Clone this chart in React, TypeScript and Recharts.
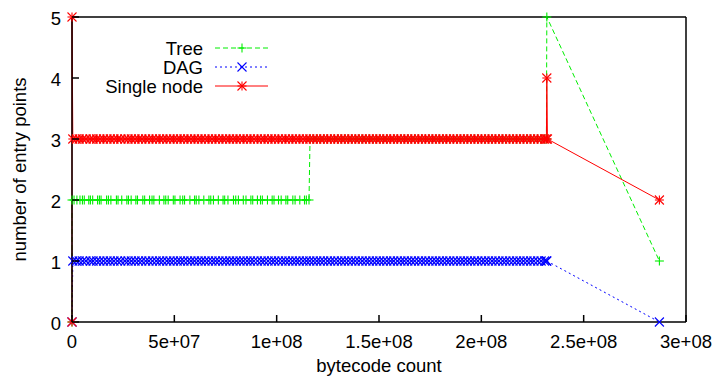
import React from 'react';
import { LineChart, Line, XAxis, YAxis, Legend } from 'recharts';

// sample positions (millions of bytecodes) where the plateaus were recorded
const busyCounts = [
  0.4, 2.1, 3.5, 5.2, 6.8, 8.9, 10.3, 12.0, 13.6, 15.4, 17.1, 18.7, 20.5, 22.2, 23.8, 25.9, 27.4,
  29.0, 30.8, 32.5, 34.1, 36.0, 37.6, 39.3, 41.1, 42.8, 44.4, 46.3, 47.9, 49.6, 51.4, 53.0, 54.7,
  56.5, 58.1, 59.9, 61.6, 63.2, 65.0, 66.7, 68.4, 70.1, 71.8, 73.6, 75.2, 77.0, 78.7, 80.3, 82.1,
  83.8, 85.5, 87.2, 88.9, 90.6, 92.4, 94.0, 95.8, 97.5, 99.1, 100.9, 102.6, 104.3, 106.0, 107.7,
  109.4, 111.1, 112.9, 114.5, 116.2, 117.9, 119.6, 121.3, 123.0, 124.8, 126.4, 128.2, 129.9,
  131.6, 133.3, 135.0, 136.7, 138.4, 140.2, 141.8, 143.6, 145.3, 147.0, 148.7, 150.4, 152.1,
  153.8, 155.6, 157.2, 159.0, 160.7, 162.4, 164.1, 165.8, 167.5, 169.3, 170.9, 172.7, 174.4,
  176.1, 177.8, 179.5, 181.2, 183.0, 184.6, 186.4, 188.1, 189.8, 191.5, 193.2, 194.9, 196.7,
  198.3, 200.1, 201.8, 203.5, 205.2, 206.9, 208.6, 210.4, 212.0, 213.8, 215.5, 217.2, 218.9,
  220.6, 222.3, 224.1, 225.7, 227.5, 229.2, 230.9, 231.8,
];

// tree samples on the lower plateau (before the step at ~116M)
const treeLowCounts = [
  1.0, 2.4, 3.9, 5.1, 6.0, 8.2, 9.0, 10.1, 12.5, 13.4, 14.2, 16.9, 17.8, 19.0, 21.7, 22.5, 24.3,
  26.8, 27.6, 28.9, 31.2, 32.0, 34.6, 35.5, 37.9, 39.1, 40.0, 42.7, 44.9, 45.8, 47.0, 49.5, 50.3,
  52.8, 54.1, 55.0, 57.6, 59.9, 60.7, 62.0, 64.4, 66.9, 67.8, 69.1, 71.5, 73.8, 74.6, 76.2, 78.9,
  80.0, 81.3, 83.7, 85.0, 87.4, 88.3, 90.6, 92.1, 93.0, 95.5, 97.8, 98.7, 100.9, 102.2, 104.5,
  105.4, 107.9, 109.0, 111.3, 113.6, 114.5, 115.8,
];

// plateau levels (entry points)
const treeLevels = { start: [0, 2], low: 2, high: 3, peak: 5, last: 1 };
const dagLevels = { start: [0], mid: 1, last: 0 };
const singleLevels = { start: [0, 5], mid: 3, bump: 4, last: 2 };

const stepAt = 116.3; // tree switches from 2 to 3 here
const endAt = 232.0;
const lastAt = 287.0;

const M = 1e6;

const treeData = [
  ...treeLevels.start.map((y) => ({ x: 0, y })),
  ...treeLowCounts.map((c) => ({ x: c * M, y: treeLevels.low })),
  { x: stepAt * M, y: treeLevels.high },
  ...busyCounts.filter((c) => c > stepAt).map((c) => ({ x: c * M, y: treeLevels.high })),
  { x: endAt * M, y: treeLevels.peak },
  { x: lastAt * M, y: treeLevels.last },
];

const dagData = [
  ...dagLevels.start.map((y) => ({ x: 0, y })),
  ...busyCounts.map((c) => ({ x: c * M, y: dagLevels.mid })),
  { x: endAt * M, y: dagLevels.mid },
  { x: lastAt * M, y: dagLevels.last },
];

const singleData = [
  ...singleLevels.start.map((y) => ({ x: 0, y })),
  ...busyCounts.map((c) => ({ x: c * M, y: singleLevels.mid })),
  { x: endAt * M, y: singleLevels.bump },
  { x: (endAt + 0.3) * M, y: singleLevels.mid },
  { x: lastAt * M, y: singleLevels.last },
];

const xTicks = [0, 5e7, 1e8, 1.5e8, 2e8, 2.5e8, 3e8];
const xTickLabels = ['0', '5e+07', '1e+08', '1.5e+08', '2e+08', '2.5e+08', '3e+08'];
const yTicks = [0, 1, 2, 3, 4, 5];
const legendOrder = ['Tree', 'DAG', 'Single node'];

const FONT = "'Liberation Sans', Arial, Helvetica, sans-serif";
const FONT_SIZE = 18.5;
const TICK_LEN = 7;
const GREEN = '#00ee00';
const BLUE = '#0000ff';
const RED = '#ff0000';

type MarkKind = 'plus' | 'cross' | 'star';

const Mark = ({ cx, cy, kind, color }: { cx: number; cy: number; kind: MarkKind; color: string }) => {
  const r = 4.5;
  const plus = (
    <>
      <line x1={cx - r} x2={cx + r} y1={cy} y2={cy} />
      <line x1={cx} x2={cx} y1={cy - r} y2={cy + r} />
    </>
  );
  const cross = (
    <>
      <line x1={cx - r} x2={cx + r} y1={cy - r} y2={cy + r} />
      <line x1={cx - r} x2={cx + r} y1={cy + r} y2={cy - r} />
    </>
  );
  return (
    <g stroke={color} strokeWidth={1.1} fill="none">
      {kind !== 'cross' && plus}
      {kind !== 'plus' && cross}
    </g>
  );
};

const marks: Record<string, { kind: MarkKind; dash?: string }> = {
  Tree: { kind: 'plus', dash: '5 3' },
  DAG: { kind: 'cross', dash: '2 3' },
  'Single node': { kind: 'star' },
};

const dotFor = (name: string, color: string) => (p: any) =>
  <Mark key={`${name}-${p.index}`} cx={p.cx} cy={p.cy} kind={marks[name].kind} color={color} />;

const BottomTick = ({ x, y, index }: any) => (
  <g>
    <line x1={x} x2={x} y1={y} y2={y - TICK_LEN} stroke="#000" strokeWidth={1.5} />
    <text x={x} y={y + 26} textAnchor="middle" fontSize={FONT_SIZE} fontFamily={FONT} fill="#000">
      {xTickLabels[index]}
    </text>
  </g>
);

const TopTick = ({ x, y }: any) => (
  <line x1={x} x2={x} y1={y} y2={y + TICK_LEN} stroke="#000" strokeWidth={1.5} />
);

const LeftTick = ({ x, y, payload }: any) => (
  <g>
    <line x1={x} x2={x + TICK_LEN} y1={y} y2={y} stroke="#000" strokeWidth={1.5} />
    <text x={x - 11} y={y + 7.5} textAnchor="end" fontSize={FONT_SIZE} fontFamily={FONT} fill="#000">
      {payload.value}
    </text>
  </g>
);

const RightTick = ({ x, y }: any) => (
  <line x1={x} x2={x - TICK_LEN} y1={y} y2={y} stroke="#000" strokeWidth={1.5} />
);

const renderLegend = (props: any) => {
  const items = [...(props.payload || [])].sort(
    (a: any, b: any) => legendOrder.indexOf(a.value) - legendOrder.indexOf(b.value),
  );
  return (
    <svg width={300} height={110}>
      {items.map((item: any, i: number) => {
        const cy = 48 + i * 19;
        const m = marks[item.value];
        return (
          <g key={item.value}>
            <text x={203} y={cy + 7} textAnchor="end" fontSize={FONT_SIZE} fontFamily={FONT} fill="#000">
              {item.value}
            </text>
            <line x1={215} x2={268} y1={cy} y2={cy} stroke={item.color} strokeWidth={1} strokeDasharray={m.dash} />
            <Mark cx={242} cy={cy} kind={m.kind} color={item.color} />
          </g>
        );
      })}
    </svg>
  );
};

export default function App() {
  return (
    <div style={{ position: 'absolute', left: 0, top: 0, width: 720, height: 377, background: '#fff' }}>
      <LineChart width={720} height={377} margin={{ top: 0, right: 0, bottom: 0, left: 0 }}>
        <XAxis
          dataKey="x"
          type="number"
          domain={[0, 3e8]}
          ticks={xTicks}
          interval={0}
          height={55}
          tickLine={false}
          tickSize={0}
          tickMargin={0}
          tick={<BottomTick />}
          axisLine={{ stroke: '#000', strokeWidth: 1.5 }}
          label={{ value: 'bytecode count', position: 'insideBottom', offset: 5, fontSize: FONT_SIZE, fill: '#000', fontFamily: FONT }}
        />
        <XAxis
          xAxisId="top"
          orientation="top"
          dataKey="x"
          type="number"
          domain={[0, 3e8]}
          ticks={xTicks}
          interval={0}
          height={17}
          tickLine={false}
          tickSize={0}
          tickMargin={0}
          tick={<TopTick />}
          axisLine={{ stroke: '#000', strokeWidth: 1.5 }}
        />
        <YAxis
          type="number"
          domain={[0, 5]}
          ticks={yTicks}
          interval={0}
          width={72}
          tickLine={false}
          tickSize={0}
          tickMargin={0}
          tick={<LeftTick />}
          axisLine={{ stroke: '#000', strokeWidth: 1.5 }}
          label={{
            value: 'number of entry points',
            angle: -90,
            position: 'insideLeft',
            offset: 19,
            fontSize: FONT_SIZE,
            fill: '#000',
            fontFamily: FONT,
            style: { textAnchor: 'middle' },
          }}
        />
        <YAxis
          yAxisId="right"
          orientation="right"
          type="number"
          domain={[0, 5]}
          ticks={yTicks}
          interval={0}
          width={34}
          tickLine={false}
          tickSize={0}
          tickMargin={0}
          tick={<RightTick />}
          axisLine={{ stroke: '#000', strokeWidth: 1.5 }}
        />
        <Legend
          layout="horizontal"
          verticalAlign="middle"
          align="center"
          content={renderLegend}
          wrapperStyle={{ position: 'absolute', left: 0, top: 0, width: 300, height: 110 }}
        />
        <Line
          data={treeData}
          dataKey="y"
          name="Tree"
          type="linear"
          stroke={GREEN}
          strokeWidth={1}
          strokeDasharray={marks.Tree.dash}
          dot={dotFor('Tree', GREEN)}
          activeDot={false}
          isAnimationActive={false}
        />
        <Line
          data={dagData}
          dataKey="y"
          name="DAG"
          type="linear"
          stroke={BLUE}
          strokeWidth={1}
          strokeDasharray={marks.DAG.dash}
          dot={dotFor('DAG', BLUE)}
          activeDot={false}
          isAnimationActive={false}
        />
        <Line
          data={singleData}
          dataKey="y"
          name="Single node"
          type="linear"
          stroke={RED}
          strokeWidth={1}
          dot={dotFor('Single node', RED)}
          activeDot={false}
          isAnimationActive={false}
        />
      </LineChart>
    </div>
  );
}
